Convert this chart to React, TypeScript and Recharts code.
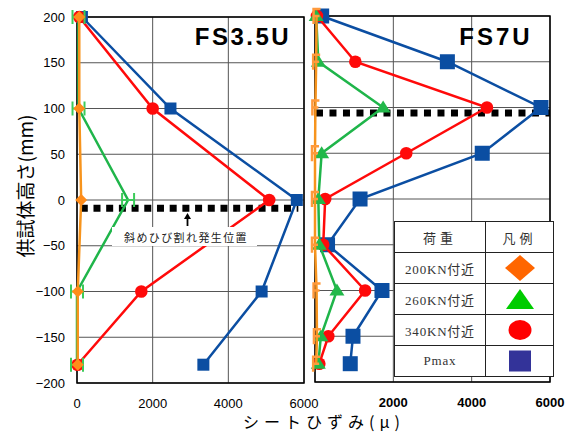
import React from 'react';
import { ScatterChart, Scatter, XAxis, YAxis, CartesianGrid, ReferenceLine, ReferenceArea } from 'recharts';

// ---- data ----
const FS35_HEIGHTS = [200, 100, 0, -100, -180];
const FS35_200KN = [60, 60, 110, 20, 20];
const FS35_260KN = [40, 40, 1350, 0, 0];
const FS35_340KN = [60, 2000, 5080, 1700, 15];
const FS35_PMAX = [130, 2470, 5810, 4880, 3340];

const FS7_HEIGHTS = [200, 150, 100, 50, 0, -50, -100, -150, -180];
const FS7_200KN = [40, 30, 10, 0, 0, 0, 40, 50, 30];
const FS7_260KN = [30, 85, 1740, 170, 85, 110, 560, 150, 85];
const FS7_340KN = [50, 1030, 4390, 2330, 260, 210, 1280, 340, 110];
const FS7_PMAX = [170, 3380, 5770, 4270, 1150, 320, 1710, 970, 900];

const X_TICKS = [0, 2000, 4000, 6000];
const Y_TICKS = [-200, -150, -100, -50, 0, 50, 100, 150, 200];
const CRACK_FS35 = { y: -9, x1: 100, x2: 5850 };
const CRACK_FS7 = { y: 94, x1: 25, x2: 6000 };

const LEGEND_ROWS = ['200KN付近', '260KN付近', '340KN付近', 'Pmax'];

// ---- colours ----
const ORANGE_LINE = '#F7941D';
const ORANGE_MARK = '#FF8C1A';
const GREEN_LINE = '#1FB54A';
const GREEN_MARK = '#3CCB5A';
const RED = '#FF0A0A';
const BLUE = '#0B4EA2';

const toPts = (xs: number[], ys: number[]) => ys.map((y, i) => ({ x: xs[i], y }));

const SANS = '"Liberation Sans", Arial, "Noto Sans CJK JP", sans-serif';
const SERIF = '"Liberation Serif", "DejaVu Serif", "Noto Sans CJK JP", serif';

// ---- marker shapes ----
const Diamond = (p: any) => {
  const { cx, cy } = p;
  return <polygon points={`${cx},${cy - 6} ${cx + 6},${cy} ${cx},${cy + 6} ${cx - 6},${cy}`} fill={ORANGE_MARK} />;
};
const HMark = (p: any) => {
  const { cx, cy } = p;
  return (
    <g stroke={GREEN_MARK} strokeWidth={2}>
      <line x1={cx - 6} y1={cy - 7} x2={cx - 6} y2={cy + 7} />
      <line x1={cx + 6} y1={cy - 7} x2={cx + 6} y2={cy + 7} />
      <line x1={cx - 6} y1={cy} x2={cx + 6} y2={cy} />
    </g>
  );
};
const FMark = (p: any) => {
  const { cx, cy } = p;
  return (
    <path d={`M${cx + 4},${cy - 7} H${cx - 3} V${cy + 8} M${cx - 3},${cy} H${cx + 3}`} stroke="#FF9A3C" strokeWidth={2.5} fill="none" />
  );
};
const Tri = (p: any) => {
  const { cx, cy } = p;
  return <polygon points={`${cx},${cy - 7} ${cx + 7.5},${cy + 5} ${cx - 7.5},${cy + 5}`} fill="#22B84A" />;
};
const Circ = (p: any) => {
  const { cx, cy } = p;
  return <circle cx={cx} cy={cy} r={6.3} fill={RED} />;
};
const SqSmall = (p: any) => {
  const { cx, cy } = p;
  return <rect x={cx - 6} y={cy - 6} width={12} height={12} fill={BLUE} />;
};
const SqBig = (p: any) => {
  const { cx, cy } = p;
  return <rect x={cx - 7.5} y={cy - 7.5} width={15} height={15} fill={BLUE} />;
};

// ---- ticks ----
const YTick = (p: any) => {
  const { x, y, payload } = p;
  const v = payload.value;
  const s = v < 0 ? '\u2212' + Math.abs(v) : String(v);
  return (
    <text x={x} y={y} textAnchor="end" dominantBaseline="central" fontFamily={SANS} fontSize={13} fill="#000">{s}</text>
  );
};
const XTickLeft = (p: any) => {
  const { x, y, payload } = p;
  return (
    <text x={x} y={y + 20} textAnchor="middle" dominantBaseline="central" fontFamily={SANS} fontSize={13} fill="#000">{payload.value}</text>
  );
};
const XTickRight = (p: any) => {
  const { x, y, payload } = p;
  if (payload.value === 0) return <g />;
  return (
    <text x={x} y={y + 20} textAnchor="middle" dominantBaseline="central" fontFamily={SANS} fontSize={13} fontWeight="bold" fill="#000">{payload.value}</text>
  );
};
const EmptyTick = () => <g />;

export default function App() {
  return (
    <div style={{ position: 'absolute', left: 0, top: 0, width: 579, height: 433, background: '#fff', overflow: 'hidden' }}>
      {/* Left panel: FS3.5U */}
      <div style={{ position: 'absolute', left: 0, top: 0 }}>
        <ScatterChart width={320} height={433} margin={{ top: 17, right: 16, bottom: 20, left: 17 }}>
          <CartesianGrid stroke="#555" strokeWidth={1} />
          <XAxis type="number" dataKey="x" domain={[0, 6000]} ticks={X_TICKS} axisLine={false} tickLine={false} tickSize={0} tickMargin={0} height={30} tick={XTickLeft} interval={0} />
          <YAxis type="number" dataKey="y" domain={[-200, 200]} ticks={Y_TICKS} axisLine={false} tickLine={false} tickSize={0} tickMargin={12} width={60} tick={YTick} interval={0} />
          <ReferenceArea x1={0} x2={6000} y1={-200} y2={200} fill="none" fillOpacity={0} stroke="#000" strokeWidth={1.5} />
          <Scatter data={toPts(FS35_PMAX, FS35_HEIGHTS)} line={{ stroke: BLUE, strokeWidth: 2.5 }} shape={SqSmall} isAnimationActive={false} />
          <Scatter data={toPts(FS35_340KN, FS35_HEIGHTS)} line={{ stroke: RED, strokeWidth: 2.5 }} shape={Circ} isAnimationActive={false} />
          <Scatter data={toPts(FS35_260KN, FS35_HEIGHTS)} line={{ stroke: GREEN_LINE, strokeWidth: 2.5 }} shape={HMark} isAnimationActive={false} />
          <Scatter data={toPts(FS35_200KN, FS35_HEIGHTS)} line={{ stroke: ORANGE_LINE, strokeWidth: 2.5 }} shape={Diamond} isAnimationActive={false} />
          <ReferenceLine segment={[{ x: CRACK_FS35.x1, y: CRACK_FS35.y }, { x: CRACK_FS35.x2, y: CRACK_FS35.y }]} stroke="#000" strokeWidth={7} strokeDasharray="7 5.7" />
        </ScatterChart>
      </div>

      {/* Right panel: FS7U */}
      <div style={{ position: 'absolute', left: 290, top: 0 }}>
        <ScatterChart width={289} height={433} margin={{ top: 16, right: 29, bottom: 21, left: 25 }}>
          <CartesianGrid stroke="#555" strokeWidth={1} />
          <XAxis type="number" dataKey="x" domain={[0, 6000]} ticks={X_TICKS} axisLine={false} tickLine={false} tickSize={0} tickMargin={0} height={30} tick={XTickRight} interval={0} />
          <YAxis type="number" dataKey="y" domain={[-200, 200]} ticks={Y_TICKS} axisLine={false} tickLine={false} tickSize={0} width={0} tick={EmptyTick} interval={0} />
          <ReferenceArea x1={0} x2={6000} y1={-200} y2={200} fill="none" fillOpacity={0} stroke="#000" strokeWidth={1.5} />
          <Scatter data={toPts(FS7_PMAX, FS7_HEIGHTS)} line={{ stroke: BLUE, strokeWidth: 2.5 }} shape={SqBig} isAnimationActive={false} />
          <Scatter data={toPts(FS7_340KN, FS7_HEIGHTS)} line={{ stroke: RED, strokeWidth: 2.5 }} shape={Circ} isAnimationActive={false} />
          <Scatter data={toPts(FS7_260KN, FS7_HEIGHTS)} line={{ stroke: GREEN_LINE, strokeWidth: 2.5 }} shape={Tri} isAnimationActive={false} />
          <Scatter data={toPts(FS7_200KN, FS7_HEIGHTS)} line={{ stroke: ORANGE_LINE, strokeWidth: 2.5 }} shape={FMark} isAnimationActive={false} />
          <ReferenceLine segment={[{ x: CRACK_FS7.x1, y: CRACK_FS7.y }, { x: CRACK_FS7.x2, y: CRACK_FS7.y }]} stroke="#000" strokeWidth={7} strokeDasharray="7 6.5" />
        </ScatterChart>
      </div>

      {/* Titles, axis titles, annotation */}
      <svg width={579} height={433} style={{ position: 'absolute', left: 0, top: 0, pointerEvents: 'none' }}>
        <text x={243} y={45} textAnchor="middle" fontFamily={SANS} fontSize={24} fontWeight="bold" letterSpacing={2.5} fill="#000">FS3.5U</text>
        <text x={496} y={45} textAnchor="middle" fontFamily={SANS} fontSize={24} fontWeight="bold" letterSpacing={3} fill="#000">FS7U</text>
        <text x={324} y={428.3} textAnchor="middle" fontFamily='"Noto Sans CJK JP", sans-serif' fontSize={16} letterSpacing={5} fill="#000">シートひずみ(μ)</text>
        <text x={24} y={186} textAnchor="middle" dominantBaseline="central" transform="rotate(-90 24 186)" fontFamily='"Noto Sans CJK JP", sans-serif' fontSize={19} fill="#000">供試体高さ(mm)</text>
        <rect x={112} y={227} width={145} height={19} fill="#fff" />
        <text x={186} y={237} textAnchor="middle" dominantBaseline="central" fontFamily='"Noto Sans CJK JP", sans-serif' fontSize={11} letterSpacing={1.4} fill="#222">斜めひび割れ発生位置</text>
        <line x1={187.5} y1={226} x2={187.5} y2={218} stroke="#000" strokeWidth={1.8} />
        <polygon points="187.5,213 184,219 191,219" fill="#000" />
      </svg>

      {/* Legend table */}
      <table style={{ position: 'absolute', left: 394, top: 221, width: 159, height: 155, borderCollapse: 'collapse', background: '#fff', fontFamily: SERIF, fontSize: 13, color: '#333', tableLayout: 'fixed' }}>
        <colgroup>
          <col style={{ width: 91 }} />
          <col style={{ width: 68 }} />
        </colgroup>
        <tbody>
          <tr style={{ height: 31 }}>
            <td style={{ border: '1.5px solid #222', textAlign: 'center', padding: 0, letterSpacing: 4 }}>荷重</td>
            <td style={{ border: '1.5px solid #222', textAlign: 'center', padding: 0, letterSpacing: 4 }}>凡例</td>
          </tr>
          {LEGEND_ROWS.map((label, i) => (
            <tr key={label} style={{ height: 31 }}>
              <td style={{ border: '1.5px solid #222', textAlign: 'center', padding: 0, letterSpacing: 0.8 }}>{label}</td>
              <td style={{ border: '1.5px solid #222', textAlign: 'center', padding: 0 }}>
                <svg width={32} height={28} style={{ display: 'block', margin: '0 auto' }}>
                  {i === 0 && <polygon points="16,1 31,14 16,27 1,14" fill="#FF6600" />}
                  {i === 1 && <polygon points="16,4 30,24 2,24" fill="#00CC00" />}
                  {i === 2 && <ellipse cx={16} cy={14} rx={11.5} ry={10} fill="#FF0000" />}
                  {i === 3 && <rect x={5} y={3.5} width={22} height={21} fill="#333399" />}
                </svg>
              </td>
            </tr>
          ))}
        </tbody>
      </table>
    </div>
  );
}
